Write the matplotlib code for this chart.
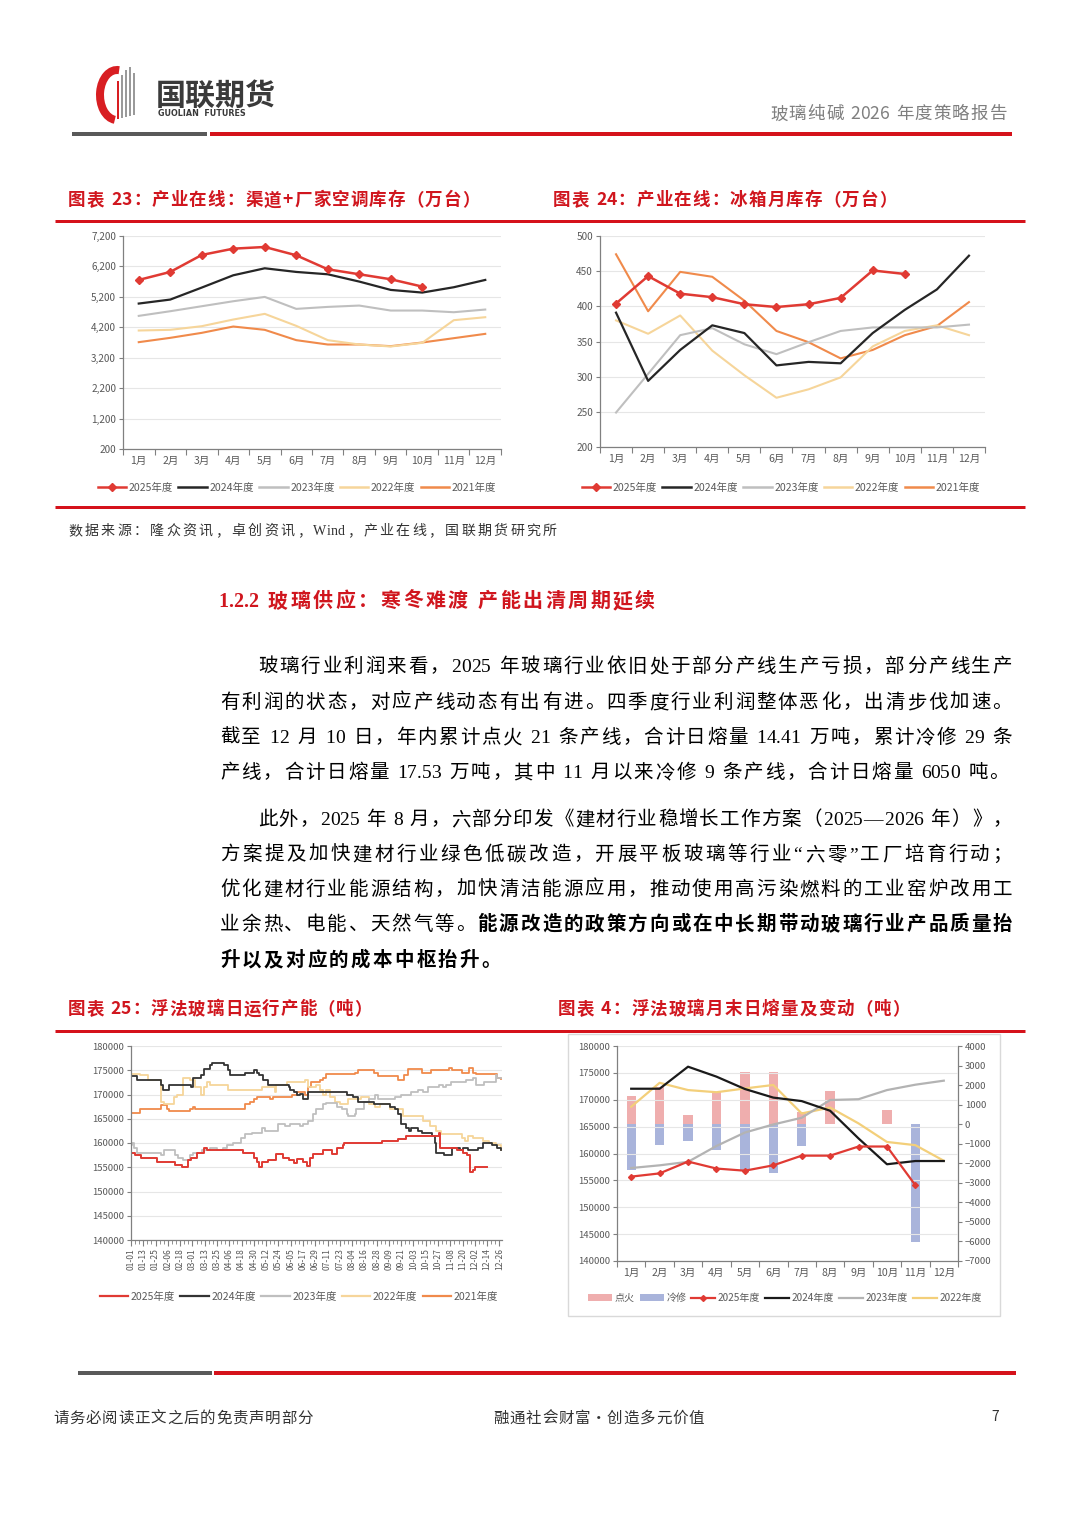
import numpy as np
import matplotlib
matplotlib.use('Agg')
import matplotlib.pyplot as plt
from matplotlib.lines import Line2D
from matplotlib.patches import Patch, Arc, Rectangle
from matplotlib.ticker import FixedLocator, FuncFormatter, NullFormatter

W, H, DPI = 1080, 1527, 100
CJK = ['Noto Sans CJK SC', 'DejaVu Sans']
BODY = ['Liberation Serif', 'Noto Sans CJK SC', 'DejaVu Sans']
plt.rcParams['font.family'] = CJK

nan = np.nan
# ---------------- data ----------------
months = ['1月', '2月', '3月', '4月', '5月', '6月', '7月', '8月', '9月', '10月', '11月', '12月']
years = ['2025年度', '2024年度', '2023年度', '2022年度', '2021年度']

# Chart 23: air-conditioner inventory (10k units)
ac_2025 = [5756, 6019, 6577, 6784, 6839, 6566, 6106, 5942, 5778, 5537, nan, nan]
ac_2024 = [4980, 5111, 5505, 5909, 6139, 6019, 5942, 5702, 5428, 5341, 5516, 5756]
ac_2023 = [4575, 4728, 4892, 5056, 5198, 4805, 4870, 4914, 4750, 4750, 4695, 4783]
ac_2022 = [4094, 4116, 4236, 4455, 4641, 4247, 3777, 3634, 3569, 3689, 4433, 4531]
ac_2021 = [3711, 3853, 4017, 4225, 4116, 3777, 3634, 3634, 3580, 3700, 3842, 3984]

# Chart 24: refrigerator inventory (10k units)
fr_2025 = [404, 443, 418, 413, 403, 399, 403, 412, 451, 446, nan, nan]
fr_2024 = [391, 294, 338, 373, 362, 316, 321, 319, 362, 395, 424, 472]
fr_2023 = [249, 304, 359, 369, 346, 332, 349, 365, 370, 370, 370, 374]
fr_2022 = [380, 361, 387, 337, 302, 270, 282, 299, 343, 365, 373, 359]
fr_2021 = [474, 393, 449, 442, 408, 365, 349, 326, 338, 359, 372, 406]

# Chart 25: float glass daily running capacity (t), change points (day of year, value)
cap_days_2025 = [0, 4, 10, 25, 43, 50, 56, 59, 64, 71, 74, 109, 120, 123, 125, 128, 134, 142, 149, 154,
                 159, 162, 168, 172, 175, 178, 188, 196, 201, 207, 208, 245, 261, 269, 301, 302, 319,
                 324, 328, 331, 334, 336, 348]
cap_vals_2025 = [158000, 157500, 157000, 156000, 155500, 155000, 156500, 157000, 158000, 159000, 158500,
                 158000, 157000, 156000, 155000, 156000, 156500, 157800, 157000, 156500, 155800, 156800,
                 156000, 155200, 157000, 157800, 158500, 157800, 159000, 159500, 160000, 160500, 160800,
                 161500, 162000, 159000, 158500, 158000, 157500, 154000, 154500, 155000, 155000]
cap_days_2024 = [0, 6, 29, 31, 37, 59, 61, 68, 71, 77, 79, 91, 95, 97, 111, 120, 123, 125, 129, 134, 154,
                 155, 159, 162, 165, 168, 173, 211, 217, 222, 237, 253, 258, 261, 264, 269, 272, 274, 280,
                 284, 294, 297, 298, 306, 314, 321, 324, 329, 339, 344, 353, 358, 362]
cap_vals_2024 = [173800, 173000, 172000, 171000, 172000, 171500, 173500, 174000, 175200, 176000, 176500,
                 176000, 175000, 174000, 174500, 175000, 174500, 174000, 173000, 172000, 171500, 171000,
                 170500, 169800, 170200, 169000, 170500, 170000, 169500, 168500, 168000, 167500, 167000,
                 166000, 164000, 163000, 162500, 163000, 162500, 162000, 161500, 160000, 158000, 157500,
                 159000, 158500, 159000, 158500, 159000, 160000, 159500, 159000, 158500]
cap_days_2023 = [0, 1, 3, 6, 29, 32, 43, 46, 51, 58, 61, 69, 77, 84, 90, 94, 100, 107, 111, 118, 128, 131,
                 144, 150, 155, 165, 168, 173, 178, 181, 188, 191, 201, 206, 211, 212, 219, 220, 228, 233,
                 238, 241, 258, 264, 274, 280, 285, 290, 301, 305, 308, 313, 327, 334, 337, 345, 357, 358,
                 362]
cap_vals_2023 = [159500, 160000, 159000, 158000, 157500, 158500, 157500, 157000, 156500, 157500, 158000,
                 158500, 159000, 158500, 159000, 159500, 160000, 161000, 161800, 162000, 163000, 162500,
                 164000, 163500, 164000, 163500, 164000, 164500, 166000, 167000, 168000, 168300, 167500,
                 167000, 166000, 165500, 166000, 167000, 168500, 169000, 170000, 169000, 169500, 170000,
                 170500, 171000, 170500, 171500, 172000, 171500, 172000, 172500, 173000, 173500, 172000,
                 172500, 174000, 173500, 173500]
cap_days_2022 = [0, 9, 17, 29, 32, 42, 45, 51, 58, 63, 68, 71, 74, 77, 95, 128, 141, 142, 152, 170, 173,
                 181, 185, 188, 191, 194, 199, 204, 212, 225, 233, 238, 243, 253, 266, 285, 292, 298, 303,
                 323, 326, 329, 334, 344, 350, 357, 362]
cap_vals_2022 = [174200, 174000, 173000, 168500, 168000, 169500, 170000, 173500, 173000, 171500, 170000,
                 171500, 172500, 172000, 171000, 171500, 170500, 172000, 172500, 173000, 171500, 172000,
                 171000, 170000, 171000, 169500, 168500, 168000, 169000, 169500, 168000, 167500, 168000,
                 167000, 165500, 164500, 163500, 162500, 161800, 161000, 160500, 161500, 161000, 160500,
                 160000, 159500, 158500]
cap_days_2021 = [0, 9, 29, 35, 37, 58, 61, 63, 111, 116, 120, 123, 136, 139, 157, 162, 170, 173, 176, 185,
                 188, 191, 219, 222, 237, 241, 261, 267, 271, 284, 293, 311, 314, 323, 330, 334, 337, 358,
                 362]
cap_vals_2021 = [166200, 167000, 167800, 167000, 166500, 167000, 167500, 167000, 168000, 168500, 169000,
                 169500, 169000, 169500, 170000, 170500, 170000, 171500, 172500, 173000, 173500, 174200,
                 174500, 175000, 174500, 173800, 173000, 174000, 175200, 174500, 175000, 175500, 175000,
                 174500, 175500, 174500, 174200, 173500, 173200]
date_ticks = ['01-01', '01-13', '01-25', '02-06', '02-18', '03-01', '03-13', '03-25', '04-06', '04-18',
              '04-30', '05-12', '05-24', '06-05', '06-17', '06-29', '07-11', '07-23', '08-04', '08-16',
              '08-28', '09-09', '09-21', '10-03', '10-15', '10-27', '11-08', '11-20', '12-02', '12-14',
              '12-26']

# Chart 4: month-end daily melt (t) and changes (t)
fire = [1450, 1900, 480, 1660, 2650, 2650, 600, 1700, 0, 700, 0, 0]
cold = [-2350, -1090, -850, -1330, -2350, -2520, -1120, 0, 0, 0, -6050, 0]
melt_2025 = [155700, 156300, 158500, 157200, 156800, 157800, 159600, 159600, 161300, 161300, 154100, nan]
melt_2024 = [172050, 172050, 176150, 174300, 172000, 170400, 169750, 167950, 162800, 158000, 158600, 158600]
melt_2023 = [157300, 157800, 158450, 161400, 163900, 165400, 166650, 169950, 170100, 171800, 172800, 173550]
melt_2022 = [168700, 173150, 171800, 171400, 172100, 172750, 167450, 168550, 165600, 162150, 161550, 158650]

# ---------------- styles ----------------
RED = '#E03A33'
BLACK = '#262626'
GRAY = '#BFBFBF'
YEL = '#F6D59A'
ORG = '#F08A4B'
YEL4 = '#F3CF7A'
PINK = '#EFAEAE'
BLUE = '#A9B4DB'
TITLE_RED = '#D0161E'
RULE_RED = '#D5121B'
TXT = '#595959'
SPINE = '#808080'
GRID = '#E6E6E6'


def P(px):
    return px * 72.0 / DPI


fig = plt.figure(figsize=(W / DPI, H / DPI), dpi=DPI)
fig.patch.set_facecolor('white')
bg = fig.add_axes([0, 0, 1, 1])
bg.set_xlim(0, W)
bg.set_ylim(H, 0)
bg.axis('off')
renderer = fig.canvas.get_renderer()


def axes_px(x0, y0, x1, y1):
    return fig.add_axes([x0 / W, 1 - y1 / H, (x1 - x0) / W, (y1 - y0) / H])


def ftext(x, y, s, px, **kw):
    return fig.text(x / W, 1 - y / H, s, fontsize=P(px), **kw)


def hline(x0, x1, y, color, lw_px):
    bg.plot([x0, x1], [y, y], color=color, lw=P(lw_px), solid_capstyle='butt')


def is_tight(a, b):
    return a.isascii() and b.isascii() and a != ' ' and b != ' '


def spaced(x0, x1, yc, segs, px, family, color='#000000', justify=True, gap_default=2.2):
    """Lay out text char by char, distributing spare width between characters."""
    items = []
    for s, bold in segs:
        for ch in s:
            t = fig.text(0, 1 - (yc + 0.36 * px) / H, ch, fontsize=P(px), family=family,
                         fontweight='bold' if bold else 'normal', color=color,
                         va='baseline', ha='left')
            w = px * 0.25 if ch == ' ' else t.get_window_extent(renderer).width
            items.append((ch, t, w))
    total = sum(w for _, _, w in items)
    slots = [0 if is_tight(items[i][0], items[i + 1][0]) else 1 for i in range(len(items) - 1)]
    nslot = max(sum(slots), 1)
    gap = (x1 - x0 - total) / nslot if justify else gap_default
    x = x0
    for i, (ch, t, w) in enumerate(items):
        t.set_x(x / W)
        x += w
        if i < len(slots) and slots[i]:
            x += gap


def style_common(ax):
    for s in ['top', 'right']:
        ax.spines[s].set_visible(False)
    for s in ['left', 'bottom']:
        ax.spines[s].set_color(SPINE)
        ax.spines[s].set_linewidth(0.9)
    ax.yaxis.grid(True, color=GRID, lw=0.8)
    ax.set_axisbelow(True)
    ax.tick_params(axis='y', length=3, color=SPINE, labelsize=P(10), labelcolor=TXT, pad=2)


def style_cat(ax, labels, px=10.5):
    n = len(labels)
    ax.set_xlim(-0.5, n - 0.5)
    ax.xaxis.set_major_locator(FixedLocator(np.arange(-0.5, n, 1.0)))
    ax.xaxis.set_major_formatter(NullFormatter())
    ax.set_xticks(np.arange(n), labels=labels, minor=True)
    ax.tick_params(axis='x', which='major', length=4, color=SPINE, direction='out')
    ax.tick_params(axis='x', which='minor', length=0, labelsize=P(px), labelcolor=TXT, pad=5)


def legend_at(ax, handles, labels, cx, cy, px=10.5, **kw):
    opts = dict(loc='center', bbox_to_anchor=(cx / W, 1 - cy / H), bbox_transform=fig.transFigure,
                ncol=len(handles), frameon=False, fontsize=P(px), handlelength=2.7,
                handletextpad=0.25, columnspacing=0.5, labelcolor=TXT)
    opts.update(kw)
    ax.legend(handles, labels, **opts)


# ---------------- header ----------------
bg.add_patch(Arc((117, 95), 34, 50, theta1=95, theta2=275, color='#D81E22', lw=P(8)))
for i, (xx, top, col) in enumerate([(118, 82, '#D81E22'), (122, 76, '#9A9A9A'), (126, 71, '#9A9A9A'),
                                    (130, 68, '#9A9A9A'), (134, 74, '#9A9A9A')]):
    bg.plot([xx, xx], [top, 118 - i], color=col, lw=P(2))
ftext(156, 96, '国联期货', 30, fontweight='bold', color='#3A3A3A', va='center', ha='left')
ftext(158, 113, 'GUOLIAN  FUTURES', 8, fontweight='bold', color='#3A3A3A', va='center', ha='left',
      family=['DejaVu Sans'])
spaced(770, 1007, 113, [('玻璃纯碱 2026 年度策略报告', False)], 17.5, CJK, color='#7F7F7F')
hline(72, 207, 134, '#595959', 4)
hline(210, 1012, 134, RULE_RED, 4)

# ---------------- chart titles & rules ----------------
TPX = 17.5
spaced(68, 480, 199, [('图表 23：产业在线：渠道+厂家空调库存（万台）', True)], TPX, CJK, color=TITLE_RED)
spaced(553, 897, 199, [('图表 24：产业在线：冰箱月库存（万台）', True)], TPX, CJK, color=TITLE_RED)
hline(55, 1025, 221, RULE_RED, 3)
hline(55, 1025, 507, RULE_RED, 3)
spaced(68, 557, 530, [('数据来源：隆众资讯，卓创资讯，Wind，产业在线，国联期货研究所', False)], 14, BODY,
       color='#333333')

spaced(68, 372, 1008, [('图表 25：浮法玻璃日运行产能（吨）', True)], TPX, CJK, color=TITLE_RED)
spaced(558, 910, 1008, [('图表 4：浮法玻璃月末日熔量及变动（吨）', True)], TPX, CJK, color=TITLE_RED)
hline(55, 1025, 1031, RULE_RED, 3)

# ---------------- chart 23 ----------------
x12 = np.arange(12)
ax = axes_px(123, 236, 501, 449)
style_common(ax)
style_cat(ax, months)
ax.plot(x12, ac_2021, color=ORG, lw=1.5)
ax.plot(x12, ac_2022, color=YEL, lw=1.5)
ax.plot(x12, ac_2023, color=GRAY, lw=1.5)
ax.plot(x12, ac_2024, color=BLACK, lw=1.6)
ax.plot(x12, ac_2025, color=RED, lw=1.8, marker='D', ms=4.5)
ax.set_ylim(200, 7200)
ax.set_yticks(np.arange(200, 7201, 1000))
ax.yaxis.set_major_formatter(FuncFormatter(lambda v, p: f'{int(v):,}'))
hs = [Line2D([], [], color=RED, lw=1.8, marker='D', ms=4), Line2D([], [], color=BLACK, lw=1.8),
      Line2D([], [], color=GRAY, lw=1.8), Line2D([], [], color=YEL, lw=1.8), Line2D([], [], color=ORG, lw=1.8)]
legend_at(ax, hs, years, 297, 488)

# ---------------- chart 24 ----------------
ax = axes_px(600, 236, 985, 447)
style_common(ax)
style_cat(ax, months)
ax.plot(x12, fr_2021, color=ORG, lw=1.5)
ax.plot(x12, fr_2022, color=YEL, lw=1.5)
ax.plot(x12, fr_2023, color=GRAY, lw=1.5)
ax.plot(x12, fr_2024, color=BLACK, lw=1.6)
ax.plot(x12, fr_2025, color=RED, lw=1.8, marker='D', ms=4.5)
ax.set_ylim(200, 500)
ax.set_yticks(np.arange(200, 501, 50))
legend_at(ax, hs, years, 781, 488)

# ---------------- chart 25 ----------------
ax = axes_px(131, 1046, 502, 1240)
style_common(ax)
for d, v, c, lw in [(cap_days_2021, cap_vals_2021, ORG, 1.3), (cap_days_2022, cap_vals_2022, YEL, 1.3),
                    (cap_days_2023, cap_vals_2023, GRAY, 1.3), (cap_days_2024, cap_vals_2024, '#333333', 1.3),
                    (cap_days_2025, cap_vals_2025, RED, 1.4)]:
    ax.plot(d, v, color=c, lw=lw, drawstyle='steps-post')
ax.set_xlim(0, 362.5)
ax.set_ylim(140000, 180000)
ax.set_yticks(np.arange(140000, 180001, 5000))
ax.set_xticks(np.arange(0, 361, 12), labels=date_ticks, rotation=90)
ax.set_xticks(np.arange(0, 363, 4), minor=True)
ax.tick_params(axis='x', which='major', length=4, color=SPINE, labelsize=P(8.5), labelcolor=TXT, pad=2)
ax.tick_params(axis='x', which='minor', length=3, color=SPINE)
ax.tick_params(axis='y', labelsize=P(9.5))
hs25 = [Line2D([], [], color=c, lw=1.6) for c in [RED, '#333333', GRAY, YEL, ORG]]
legend_at(ax, hs25, years, 299, 1297)

# ---------------- chart 4 ----------------
bg.add_patch(Rectangle((568, 1034), 432, 282, fill=False, ec='#D9D9D9', lw=1))
axl = axes_px(617, 1046, 958, 1261)
axr = axl.twinx()
axl.set_zorder(axr.get_zorder() + 1)
axl.patch.set_visible(False)
style_common(axl)
style_cat(axl, months)
axr.bar(x12, fire, width=0.33, color=PINK)
axr.bar(x12, cold, width=0.33, color=BLUE)
axr.set_ylim(-7000, 4000)
axr.set_yticks(np.arange(-7000, 4001, 1000))
for s in ['top', 'left', 'bottom']:
    axr.spines[s].set_visible(False)
axr.spines['right'].set_color(SPINE)
axr.spines['right'].set_linewidth(0.9)
axr.tick_params(axis='y', length=3, color=SPINE, labelsize=P(9.5), labelcolor=TXT, pad=2)
axl.plot(x12, melt_2022, color=YEL4, lw=1.6)
axl.plot(x12, melt_2023, color='#B3B3B3', lw=1.6)
axl.plot(x12, melt_2024, color='#1A1A1A', lw=1.6)
axl.plot(x12, melt_2025, color=RED, lw=1.6, marker='D', ms=3)
axl.set_ylim(140000, 180000)
axl.set_yticks(np.arange(140000, 180001, 5000))
axl.tick_params(axis='y', labelsize=P(9.5))
hs4 = [Patch(facecolor=PINK), Patch(facecolor=BLUE), Line2D([], [], color=RED, lw=1.6, marker='D', ms=3),
       Line2D([], [], color='#1A1A1A', lw=1.6), Line2D([], [], color='#B3B3B3', lw=1.6),
       Line2D([], [], color=YEL4, lw=1.6)]
legend_at(axl, hs4, ['点火', '冷修', '2025年度', '2024年度', '2023年度', '2022年度'], 785, 1298, px=10,
          handlelength=2.4)

# ---------------- section heading & body text ----------------
spaced(218, 655, 600, [('1.2.2 玻璃供应：寒冬难渡 产能出清周期延续', True)], 20, BODY, color=TITLE_RED)

BODY_PX = 19.5
body_lines = [
    (258, 1012, 665, [('玻璃行业利润来看，2025 年玻璃行业依旧处于部分产线生产亏损，部分产线生产', False)], True),
    (220, 1012, 701, [('有利润的状态，对应产线动态有出有进。四季度行业利润整体恶化，出清步伐加速。', False)], True),
    (220, 1012, 736, [('截至 12 月 10 日，年内累计点火 21 条产线，合计日熔量 14.41 万吨，累计冷修 29 条', False)], True),
    (220, 1009, 771, [('产线，合计日熔量 17.53 万吨，其中 11 月以来冷修 9 条产线，合计日熔量 6050 吨。', False)], True),
    (258, 1012, 818, [('此外，2025 年 8 月，六部分印发《建材行业稳增长工作方案（2025—2026 年）》，', False)], True),
    (220, 1012, 853, [('方案提及加快建材行业绿色低碳改造，开展平板玻璃等行业“六零”工厂培育行动；', False)], True),
    (220, 1012, 888, [('优化建材行业能源结构，加快清洁能源应用，推动使用高污染燃料的工业窑炉改用工', False)], True),
    (220, 1012, 923, [('业余热、电能、天然气等。', False), ('能源改造的政策方向或在中长期带动玻璃行业产品质量抬', True)], True),
    (220, 1012, 959, [('升以及对应的成本中枢抬升。', True)], False),
]
for x0, x1, yc, segs, just in body_lines:
    spaced(x0, x1, yc, segs, BODY_PX, BODY, color='#000000', justify=just, gap_default=2.3)

# ---------------- footer ----------------
hline(78, 212, 1373, '#595959', 4)
hline(214, 1016, 1373, RULE_RED, 4)
spaced(53, 313, 1417, [('请务必阅读正文之后的免责声明部分', False)], 15.5, CJK, color='#333333')
spaced(493, 704, 1417, [('融通社会财富·创造多元价值', False)], 15.5, CJK, color='#333333')
ftext(995, 1417, '7', 14, color='#333333', va='center', ha='center')

fig.savefig('out.png', dpi=DPI, facecolor='white')
